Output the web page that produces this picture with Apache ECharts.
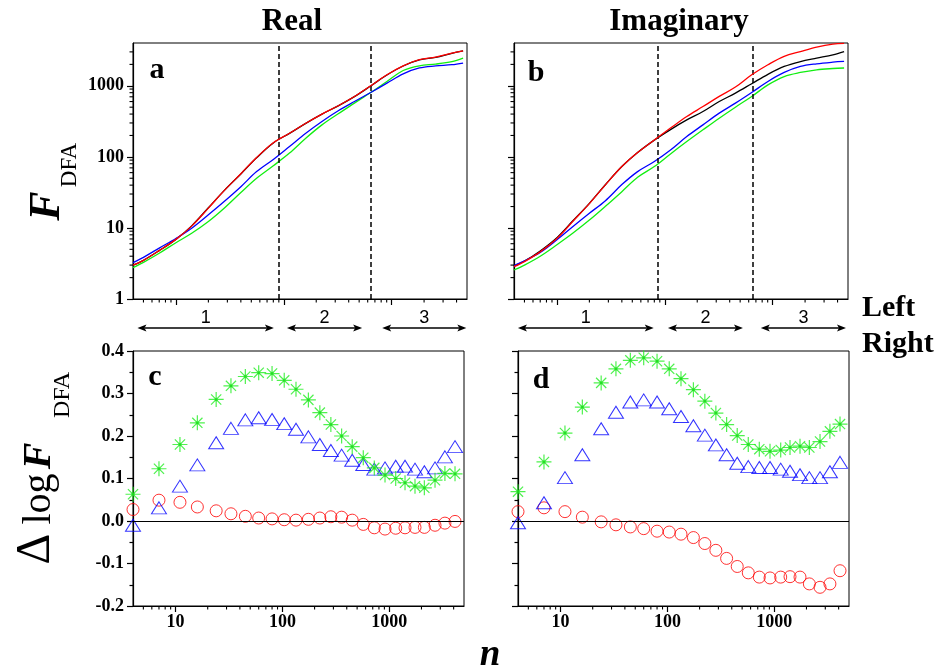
<!DOCTYPE html>
<html>
<head>
<meta charset="utf-8">
<title>DFA real / imaginary</title>
<script src="https://cdn.jsdelivr.net/npm/echarts@6/dist/echarts.min.js"></script>
<style>
    html, body {margin: 0; padding: 0; background: #fff;}
    #chart {width: 948px; height: 672px;}
</style>
</head>
<body>
<div id="chart"></div>
<script>
// window sizes n for the F_DFA curves
var nLine = [4, 5, 7, 10, 14, 20, 28, 40, 56, 80, 113, 160, 226, 320, 452, 640, 905, 1280, 1810, 2560, 3620, 4600];

// panel a (real part)
var realBlack = [3.0, 3.5, 4.8, 6.9, 10.7, 19.2, 33.5, 57.5, 97, 157, 214, 296, 399, 522, 704, 995, 1420, 1900, 2310, 2510, 2860, 3090];
var realRed = [3.0, 3.5, 4.8, 6.9, 10.6, 19, 33.5, 58, 98, 158, 215, 297, 400, 524, 707, 1000, 1430, 1910, 2330, 2530, 2880, 3100];
var realBlue = [3.25, 3.86, 5.2, 7.1, 9.9, 15.3, 23.5, 38, 62, 92, 140, 215, 315, 445, 600, 805, 1090, 1470, 1780, 1900, 1980, 2090];
var realGreen = [2.76, 3.28, 4.4, 6.2, 8.4, 12.3, 18.9, 31.5, 50, 75, 113, 183, 282, 404, 570, 805, 1150, 1640, 1910, 2020, 2190, 2450];

// panel b (imaginary part)
var imagBlack = [2.9, 3.42, 4.75, 7.3, 12.5, 22.2, 40.2, 73, 115, 172, 242, 331, 434, 600, 789, 1070, 1450, 1870, 2190, 2450, 2730, 3030];
var imagRed = [2.85, 3.36, 4.6, 7.1, 12.3, 22, 40, 73, 115, 173, 254, 370, 510, 710, 960, 1430, 1980, 2600, 3030, 3500, 3860, 3950];
var imagBlue = [2.95, 3.43, 4.5, 6.8, 10.4, 16.1, 24, 40.7, 62, 86, 125, 193, 282, 412, 570, 805, 1150, 1540, 1870, 2040, 2150, 2200];
var imagGreen = [2.56, 3.0, 4.0, 5.8, 8.4, 12.9, 20, 32.4, 51.6, 73, 110, 164, 240, 350, 500, 707, 1030, 1350, 1540, 1680, 1750, 1780];

// window sizes n for the difference points
var nPts = [4, 7, 11, 16, 24, 33, 45, 60, 80, 104, 134, 175, 224, 284, 358, 450, 571, 724, 912, 1148, 1403, 1740, 2128, 2678, 3314, 4120];

// panel c
var realStar = [0.063, 0.123, 0.18, 0.231, 0.286, 0.318, 0.34, 0.349, 0.347, 0.331, 0.31, 0.285, 0.255, 0.227, 0.2, 0.175, 0.149, 0.125, 0.108, 0.1, 0.09, 0.082, 0.078, 0.096, 0.112, 0.111];
var realTri = [-0.01, 0.031, 0.082, 0.132, 0.184, 0.218, 0.238, 0.243, 0.239, 0.229, 0.216, 0.198, 0.18, 0.166, 0.155, 0.143, 0.133, 0.122, 0.125, 0.129, 0.129, 0.122, 0.116, 0.125, 0.151, 0.175];
var realCirc = [0.027, 0.049, 0.044, 0.033, 0.024, 0.017, 0.011, 0.007, 0.005, 0.003, 0.002, 0.004, 0.007, 0.01, 0.009, 0.002, -0.008, -0.016, -0.019, -0.017, -0.016, -0.015, -0.015, -0.01, -0.005, -0.001];

// panel d
var imagStar = [0.069, 0.139, 0.207, 0.268, 0.325, 0.358, 0.378, 0.384, 0.376, 0.358, 0.335, 0.309, 0.282, 0.254, 0.227, 0.201, 0.18, 0.169, 0.164, 0.167, 0.173, 0.176, 0.173, 0.187, 0.211, 0.228];
var imagTri = [-0.004, 0.043, 0.102, 0.156, 0.217, 0.256, 0.28, 0.285, 0.28, 0.264, 0.246, 0.224, 0.202, 0.179, 0.156, 0.136, 0.128, 0.126, 0.126, 0.122, 0.117, 0.109, 0.102, 0.102, 0.116, 0.138];
var imagCirc = [0.022, 0.031, 0.022, 0.009, -0.002, -0.009, -0.014, -0.018, -0.024, -0.026, -0.031, -0.039, -0.053, -0.069, -0.088, -0.107, -0.122, -0.132, -0.134, -0.132, -0.131, -0.132, -0.148, -0.156, -0.148, -0.117];

// crossover positions (dashed lines) and scaling regions
var realDash = [90, 645];
var imagDash = [86, 655];
var realRegions = [[4.4, 81], [107, 533], [818, 4930]];
var imagRegions = [[4.35, 79], [107, 531], [777, 4790]];
var regionNames = ['1', '2', '3'];

// tick values
var xMajor = [10, 100, 1000];
var yMajor = [1, 10, 100, 1000];

var SERIF = '"Liberation Serif", "Times New Roman", serif';
var SANS = '"Liberation Sans", Arial, sans-serif';

// minor ticks of a log axis: 2..9 of every decade inside [lo, hi]
function logMinor(lo, hi) {
    var out = [];
    for (var d = 1; d <= 1000; d *= 10) {
        for (var k = 2; k <= 9; k++) {
            var v = k * d;
            if (v > lo && v < hi) {
                out.push(v);
            }
        }
    }
    return out;
}

function pair(xs, ys) {
    return xs.map(function (x, i) {
        return [x, ys[i]];
    });
}

function fmtInt(v) {
    return String(Math.round(v));
}

var tickLabel = {color: '#000', fontFamily: SERIF, fontWeight: 'bold', fontSize: 18};
var blackLine = {color: '#000', width: 1.2};

function mainX(gi, showLabel) {
    return {
        type: 'log', gridIndex: gi, min: 4, max: 5000, position: 'bottom',
        axisLine: {show: true, onZero: false, lineStyle: blackLine},
        axisTick: {show: true, length: 6, customValues: xMajor, lineStyle: blackLine},
        axisLabel: Object.assign({show: showLabel, customValues: xMajor, margin: 7, formatter: fmtInt}, tickLabel),
        splitLine: {show: false}
    };
}

function mainYLog(gi, showLabel) {
    return {
        type: 'log', gridIndex: gi, min: 1, max: 4000, position: 'left',
        axisLine: {show: true, onZero: false, lineStyle: blackLine},
        axisTick: {show: true, length: 6, customValues: yMajor, lineStyle: blackLine},
        axisLabel: Object.assign({show: showLabel, customValues: yMajor, margin: 9, formatter: fmtInt}, tickLabel),
        splitLine: {show: false}
    };
}

function diffY(gi, showLabel) {
    return {
        type: 'value', gridIndex: gi, min: -0.2, max: 0.4, interval: 0.1, position: 'left',
        axisLine: {show: true, onZero: false, lineStyle: blackLine},
        axisTick: {show: true, length: 6, lineStyle: blackLine},
        minorTick: {show: true, splitNumber: 2, length: 3.5, lineStyle: blackLine},
        axisLabel: Object.assign({
            show: showLabel, margin: 9,
            formatter: function (v) {
                return v.toFixed(1);
            }
        }, tickLabel),
        splitLine: {show: false},
        minorSplitLine: {show: false}
    };
}

// short outward ticks for the log minor divisions, drawn at the grid edge
var MINOR_LEN = 3.5;
function minorTicks(gi, dim, values, other) {
    return {
        type: 'custom', coordinateSystem: 'cartesian2d', xAxisIndex: gi, yAxisIndex: gi,
        silent: true, animation: false, clip: false, z: 6,
        data: values.map(function (v) {
            return dim === 'x' ? [v, other] : [other, v];
        }),
        renderItem: function (params, api) {
            var cs = params.coordSys;
            var p = api.coord([api.value(0), api.value(1)]);
            var shape;
            if (dim === 'x') {
                var yb = cs.y + cs.height;
                shape = {x1: p[0], y1: yb, x2: p[0], y2: yb + MINOR_LEN};
            }
            else {
                shape = {x1: cs.x - MINOR_LEN, y1: p[1], x2: cs.x, y2: p[1]};
            }
            return {type: 'line', shape: shape, style: {stroke: '#000', lineWidth: 1.1}};
        }
    };
}

function curve(name, xi, data, color, z) {
    return {
        name: name, type: 'line', xAxisIndex: xi, yAxisIndex: xi,
        data: pair(nLine, data), showSymbol: false, smooth: 0.35, z: z,
        lineStyle: {color: color, width: 1.3}, silent: true, animation: false
    };
}

function dashes(values) {
    return {
        silent: true, symbol: ['none', 'none'], label: {show: false}, animation: false,
        lineStyle: {color: '#000', type: [5, 3], width: 1.5},
        data: values.map(function (v) {
            return {xAxis: v};
        })
    };
}

var starPath = 'path://M0,5L10,5M5,0L5,10M1.6,1.6L8.4,8.4M1.6,8.4L8.4,1.6M4.2,4.2L5.8,4.2L5.8,5.8L4.2,5.8Z';

function points(xi, data, kind) {
    var s = {
        type: 'scatter', xAxisIndex: xi, yAxisIndex: xi, data: pair(nPts, data),
        silent: true, animation: false
    };
    if (kind === 'circle') {
        s.symbol = 'circle';
        s.symbolSize = 12;
        s.itemStyle = {color: 'rgba(0,0,0,0)', borderColor: '#ff0000', borderWidth: 1};
        s.z = 3;
        s.markLine = {
            silent: true, symbol: ['none', 'none'], label: {show: false}, animation: false,
            lineStyle: {color: '#000', type: 'solid', width: 1},
            data: [{yAxis: 0}]
        };
    }
    else if (kind === 'triangle') {
        s.symbol = 'triangle';
        s.symbolSize = [15, 12];
        s.itemStyle = {color: 'rgba(0,0,0,0)', borderColor: '#0000ff', borderWidth: 1};
        s.z = 4;
    }
    else {
        s.symbol = starPath;
        s.symbolSize = 15;
        s.itemStyle = {color: '#008800', borderColor: '#22ee22', borderWidth: 1.2};
        s.z = 5;
    }
    return s;
}

var gridBase = {show: true, borderColor: '#000', borderWidth: 1, backgroundColor: 'transparent', containLabel: false, outerBoundsMode: 'none'};

var option = {
    backgroundColor: '#fff',
    animation: false,
    grid: [
        Object.assign({left: 133, top: 43, width: 334, height: 256}, gridBase),
        Object.assign({left: 514, top: 43, width: 334, height: 256}, gridBase),
        Object.assign({left: 133, top: 351, width: 331, height: 255}, gridBase),
        Object.assign({left: 518, top: 351, width: 331, height: 255}, gridBase)
    ],
    xAxis: [mainX(0, false), mainX(1, false), mainX(2, true), mainX(3, true)],
    yAxis: [mainYLog(0, true), mainYLog(1, false), diffY(2, true), diffY(3, false)],
    series: [
        minorTicks(0, 'x', logMinor(4, 5000), 1),
        minorTicks(1, 'x', logMinor(4, 5000), 1),
        minorTicks(2, 'x', logMinor(4, 5000), -0.2),
        minorTicks(3, 'x', logMinor(4, 5000), -0.2),
        minorTicks(0, 'y', logMinor(1, 4000), 4),
        minorTicks(1, 'y', logMinor(1, 4000), 4),

        curve('black', 0, realBlack, '#000000', 2),
        curve('green', 0, realGreen, '#11ee11', 3),
        curve('blue', 0, realBlue, '#0000ff', 4),
        Object.assign(curve('red', 0, realRed, '#ff0000', 5), {markLine: dashes(realDash)}),

        curve('black', 1, imagBlack, '#000000', 2),
        curve('green', 1, imagGreen, '#11ee11', 3),
        curve('blue', 1, imagBlue, '#0000ff', 4),
        Object.assign(curve('red', 1, imagRed, '#ff0000', 5), {markLine: dashes(imagDash)}),

        points(2, realCirc, 'circle'),
        points(2, realTri, 'triangle'),
        points(2, realStar, 'star'),

        points(3, imagCirc, 'circle'),
        points(3, imagTri, 'triangle'),
        points(3, imagStar, 'star')
    ]
};

var chart = echarts.init(document.getElementById('chart'), null, {renderer: 'canvas'});
chart.setOption(option);

// text helper for the graphic layer
function label(text, x, y, font, align, rotate) {
    return {
        type: 'text', x: x, y: y, rotation: rotate ? Math.PI / 2 : 0, silent: true,
        style: {
            text: text, font: font, fill: '#000',
            align: align || 'center', textAlign: align || 'center',
            verticalAlign: 'middle', textVerticalAlign: 'middle'
        }
    };
}

// double arrow between two x pixels
function arrow(x1, x2, y) {
    var h = 9, w = 3.5;
    return [
        {type: 'line', silent: true, shape: {x1: x1 + h - 2, y1: y, x2: x2 - h + 2, y2: y}, style: {stroke: '#000', lineWidth: 1.5}},
        {type: 'polygon', silent: true, shape: {points: [[x1, y], [x1 + h, y - w], [x1 + h - 2, y], [x1 + h, y + w]]}, style: {fill: '#000'}},
        {type: 'polygon', silent: true, shape: {points: [[x2, y], [x2 - h, y - w], [x2 - h + 2, y], [x2 - h, y + w]]}, style: {fill: '#000'}}
    ];
}

var graphics = [];
var arrowY = 328;
[[0, realRegions], [1, imagRegions]].forEach(function (item) {
    item[1].forEach(function (r, i) {
        var x1 = chart.convertToPixel({xAxisIndex: item[0]}, r[0]);
        var x2 = chart.convertToPixel({xAxisIndex: item[0]}, r[1]);
        graphics = graphics.concat(arrow(x1, x2, arrowY));
        graphics.push(label(regionNames[i], (x1 + x2) / 2, 318, '18px ' + SANS));
    });
});

graphics.push(
    label('Real', 292, 22, 'bold 31px ' + SERIF),
    label('Imaginary', 679, 22, 'bold 31px ' + SERIF),
    label('Left', 862, 308, 'bold 30px ' + SERIF, 'left'),
    label('Right', 862, 344, 'bold 30px ' + SERIF, 'left'),
    label('a', 157, 70, 'bold 30px ' + SERIF),
    label('b', 536, 73, 'bold 30px ' + SERIF),
    label('c', 155, 377, 'bold 30px ' + SERIF),
    label('d', 541, 380, 'bold 30px ' + SERIF),
    label('n', 490, 655, 'italic bold 37px ' + SERIF),
    // y titles, rotated
    label('F', 48, 206, 'italic bold 44px ' + SERIF, 'center', true),
    label('DFA', 70, 165, '23px ' + SERIF, 'center', true),
    label('\u0394', 36, 549, '48px ' + SERIF, 'center', true),
    label('log', 39, 499, '40px ' + SERIF, 'center', true),
    label('F', 40, 456, 'italic bold 40px ' + SERIF, 'center', true),
    label('DFA', 63, 395, '24px ' + SERIF, 'center', true)
);

chart.setOption({graphic: {elements: graphics}});
</script>
</body>
</html>
